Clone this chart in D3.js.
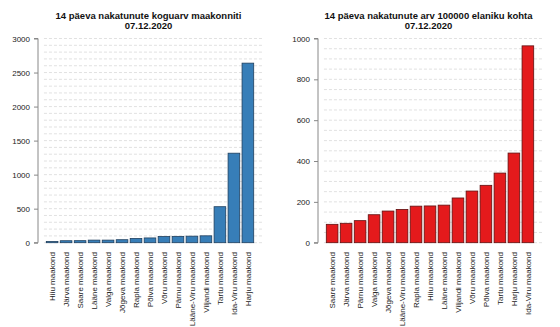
<!DOCTYPE html>
<html>
<head>
<meta charset="utf-8">
<script src="https://cdn.jsdelivr.net/npm/d3@7"></script>
<style>
  body { margin: 0; background: #fff; }
  svg { display: block; font-family: "Liberation Sans", Arial, sans-serif; }
</style>
</head>
<body>
<svg id="chart" width="560" height="327"></svg>
<script>
// 14 day case totals per county
const countyNames = ['Hiiu maakond', 'Järva maakond', 'Saare maakond', 'Lääne maakond', 'Valga maakond',
  'Jõgeva maakond', 'Rapla maakond', 'Põlva maakond', 'Võru maakond', 'Pärnu maakond',
  'Lääne-Viru maakond', 'Viljandi maakond', 'Tartu maakond', 'Ida-Viru maakond', 'Harju maakond'];
const countyCases = [17, 29, 30, 38, 38, 44, 62, 70, 90, 93, 96, 101, 529, 1315, 2638];

// 14 day cases per 100000 inhabitants
const rateNames = ['Saare maakond', 'Järva maakond', 'Pärnu maakond', 'Valga maakond', 'Jõgeva maakond',
  'Lääne-Viru maakond', 'Rapla maakond', 'Hiiu maakond', 'Lääne maakond', 'Viljandi maakond',
  'Võru maakond', 'Põlva maakond', 'Tartu maakond', 'Harju maakond', 'Ida-Viru maakond'];
const rateValues = [90, 95, 108, 137, 155, 163, 179, 180, 184, 219, 253, 281, 341, 439, 964];

const casesTicks = [0, 500, 1000, 1500, 2000, 2500, 3000];
const rateTicks = [0, 200, 400, 600, 800, 1000];

const svg = d3.select('#chart');

const panel = function(opts) {
  const g = svg.append('g').attr('transform', `translate(${opts.x0}, 0)`);
  const left = 38, right = 262, top = 38.5, bottom = 242.7;

  // R style barplot units: bars at 0.2 + 1.2*i, plot extended by 4%
  const n = opts.names.length;
  const uMin = 0.2 - 0.04 * (n * 1.2 - 0.2) ;
  const uMax = n * 1.2 + 0.04 * (n * 1.2 - 0.2);
  const u = d3.scaleLinear().domain([uMin, uMax]).range([left, right]);

  const x = d3.scaleBand()
    .domain(opts.names)
    .range([u(0.2), u(n * 1.2)])
    .paddingInner(1 / 6)
    .paddingOuter(0);

  const y = d3.scaleLinear().domain([0, opts.max]).range([bottom, top]);

  // dashed grid
  g.append('g')
    .selectAll('line')
    .data(d3.range(0, opts.max + 1, opts.gridStep))
    .enter()
    .append('line')
    .attr('x1', u(0))
    .attr('x2', right)
    .attr('y1', d => y(d))
    .attr('y2', d => y(d))
    .attr('stroke', '#d9d9d9')
    .attr('stroke-width', 0.8)
    .attr('stroke-dasharray', '3,2');

  // bars
  g.append('g')
    .selectAll('rect')
    .data(opts.values)
    .enter()
    .append('rect')
    .attr('x', (d, i) => x(opts.names[i]))
    .attr('width', x.bandwidth())
    .attr('y', d => y(d))
    .attr('height', d => y(0) - y(d))
    .attr('fill', opts.fill)
    .attr('stroke', opts.stroke)
    .attr('stroke-width', 0.8);

  // y axis
  const axis = g.append('g')
    .attr('transform', `translate(${left}, 0)`)
    .call(d3.axisLeft(y).tickValues(opts.ticks).tickSize(4).tickPadding(4).tickFormat(d3.format('d')));
  axis.selectAll('path, line').attr('stroke', '#888');
  axis.select('.domain').attr('d', `M-4,${y(0)}H0V${y(opts.max)}H-4`);
  axis.selectAll('text').attr('font-size', 8).attr('fill', '#222').attr('font-family', '"Liberation Sans", Arial, sans-serif');

  // rotated county names
  g.append('g')
    .selectAll('text')
    .data(opts.names)
    .enter()
    .append('text')
    .attr('transform', d => `translate(${x(d) + x.bandwidth() / 2 + 3}, 252) rotate(-90)`)
    .attr('text-anchor', 'end')
    .attr('font-size', 8)
    .attr('fill', '#222')
    .text(d => d);

  // title
  const title = g.append('text')
    .attr('x', (left + right) / 2 - 1.5)
    .attr('text-anchor', 'middle')
    .attr('font-size', 9.5)
    .attr('font-weight', 'bold')
    .attr('fill', '#111');
  title.append('tspan').attr('x', (left + right) / 2 - 1.5).attr('y', 18.5).text(opts.title);
  title.append('tspan').attr('x', (left + right) / 2 - 1.5).attr('y', 28.5).text('07.12.2020');
};

panel({
  x0: 0,
  names: countyNames,
  values: countyCases,
  max: 3000,
  gridStep: 100,
  ticks: casesTicks,
  fill: '#377eb8',
  stroke: '#1f3f5e',
  title: '14 päeva nakatunute koguarv maakonniti',
});

panel({
  x0: 280,
  names: rateNames,
  values: rateValues,
  max: 1000,
  gridStep: 50,
  ticks: rateTicks,
  fill: '#e41a1c',
  stroke: '#5e1010',
  title: '14 päeva nakatunute arv 100000 elaniku kohta',
});
</script>
</body>
</html>
